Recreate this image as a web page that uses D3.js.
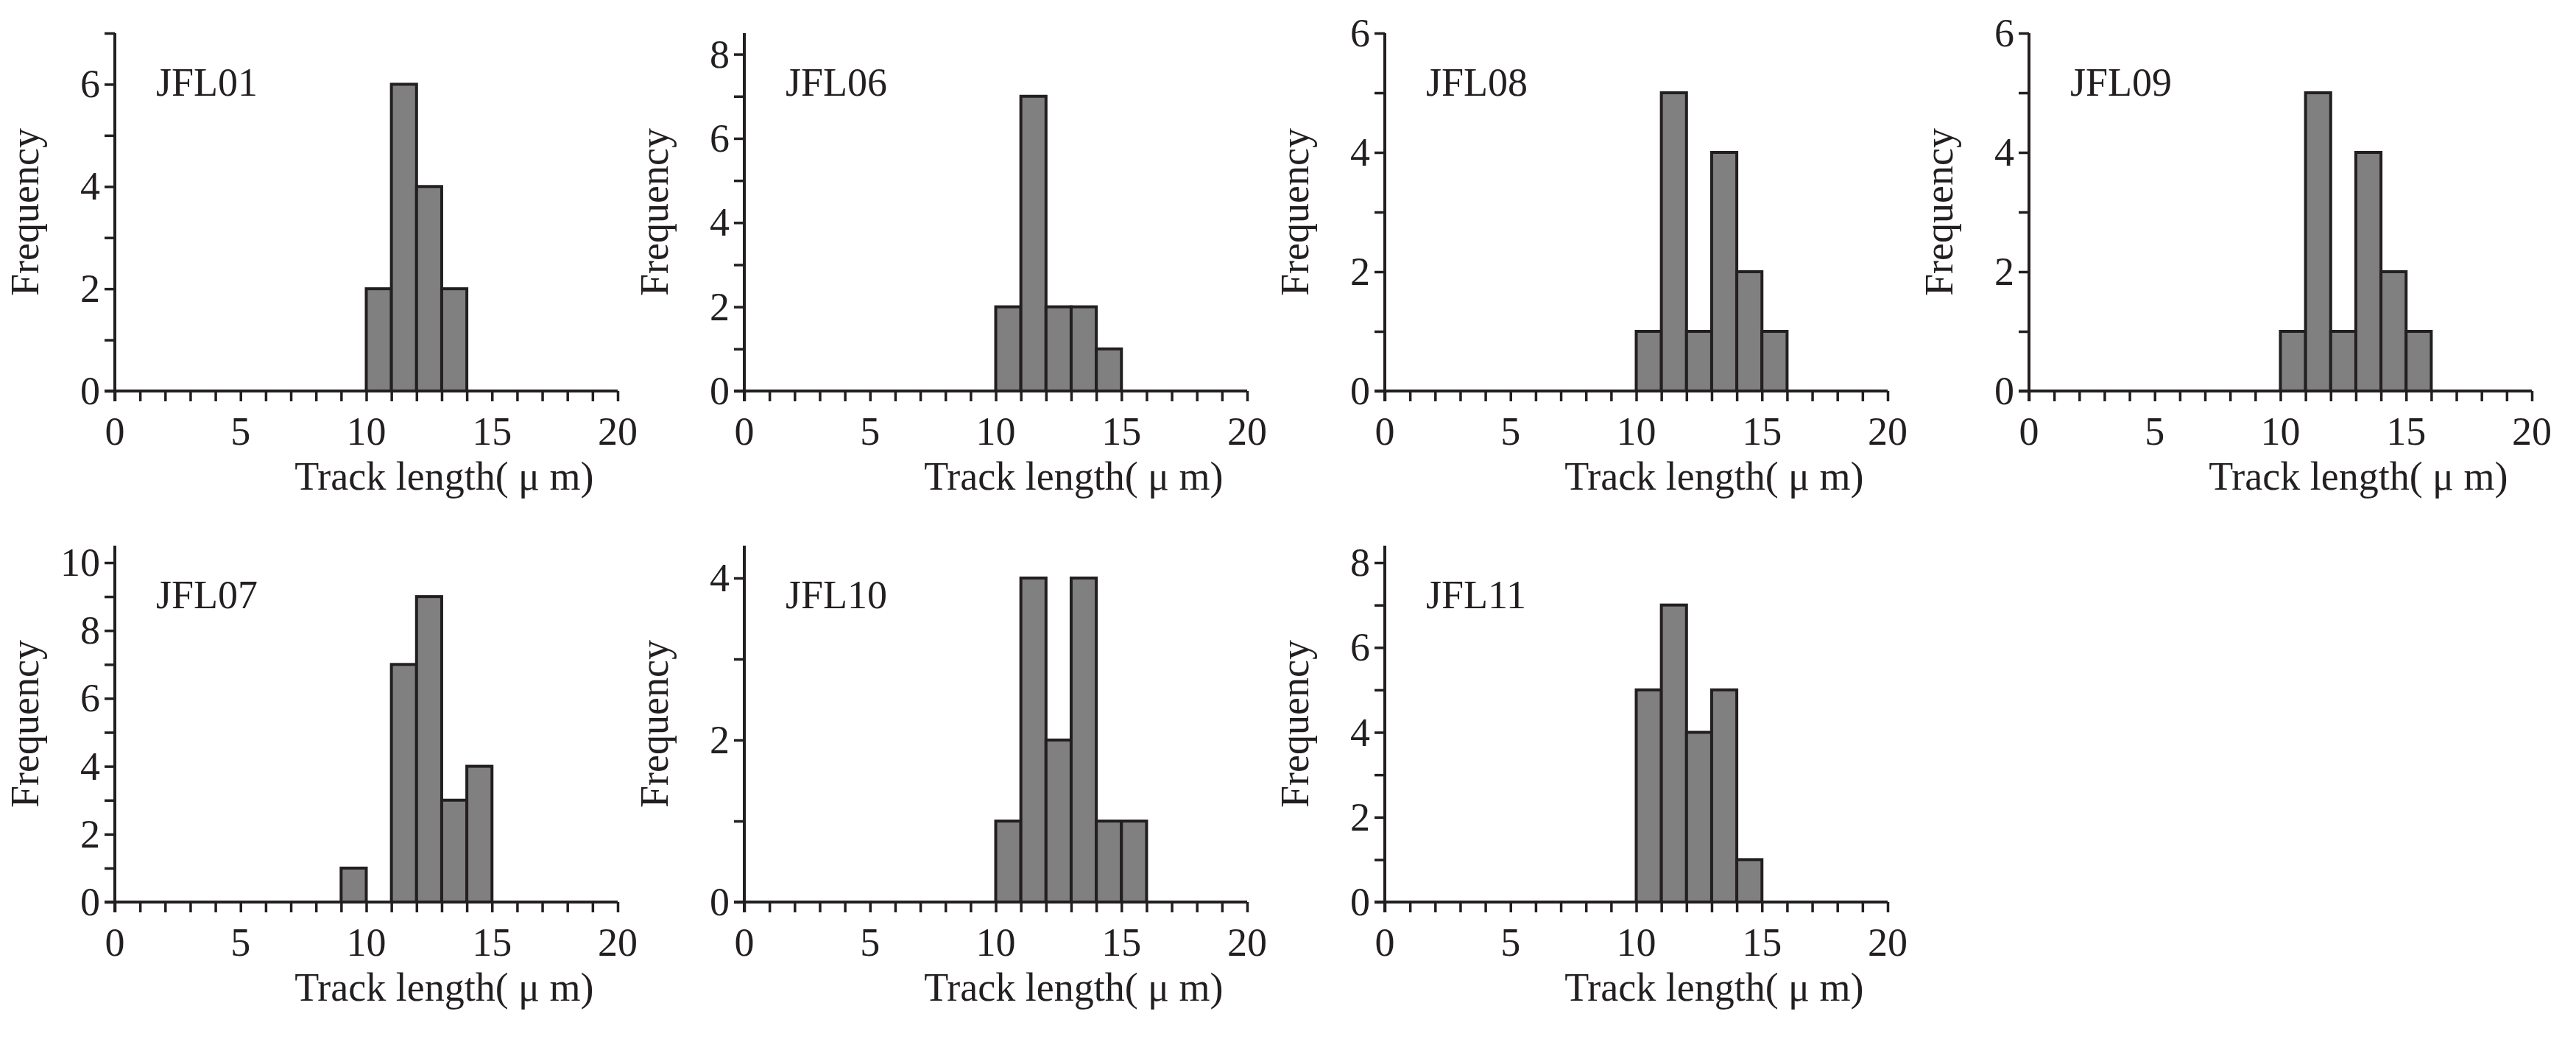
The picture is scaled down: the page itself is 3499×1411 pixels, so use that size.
<!DOCTYPE html>
<html><head><meta charset="utf-8">
<script src="https://cdn.jsdelivr.net/npm/d3@7"></script>
<style>body{margin:0;background:#fff}text{font-family:"Liberation Serif","Times New Roman",serif;fill:#231f20}</style>
</head><body>
<svg id="c" width="3499" height="1411"></svg>
<script>
// samples, bin starts (µm) and counts
const samples = ['JFL01', 'JFL06', 'JFL08', 'JFL09', 'JFL07', 'JFL10', 'JFL11']
const binStarts = [
  [10, 11, 12, 13],
  [10, 11, 12, 13, 14],
  [10, 11, 12, 13, 14, 15],
  [10, 11, 12, 13, 14, 15],
  [9, 11, 12, 13, 14],
  [10, 11, 12, 13, 14, 15],
  [10, 11, 12, 13, 14]
]
const counts = [
  [2, 6, 4, 2],
  [2, 7, 2, 2, 1],
  [1, 5, 1, 4, 2, 1],
  [1, 5, 1, 4, 2, 1],
  [1, 7, 9, 3, 4],
  [1, 4, 2, 4, 1, 1],
  [5, 7, 4, 5, 1]
]
const yMax = [7, 8.5, 6, 6, 10.5, 4.4, 8.4]
const yTicks = [[0, 2, 4, 6], [0, 2, 4, 6, 8], [0, 2, 4, 6], [0, 2, 4, 6], [0, 2, 4, 6, 8, 10], [0, 2, 4], [0, 2, 4, 6, 8]]
const xTicks = [0, 5, 10, 15, 20]

const svg = d3.select('#c')
const colX = [156, 1011, 1881, 2756]
const rowTop = [45, 741]
const rowZero = [531, 1225]
const W = 683
const ink = '#231f20'

samples.forEach((name, i) => {
  const x0 = colX[i % 4], r = i < 4 ? 0 : 1
  const g = svg.append('g')
  const x = d3.scaleLinear().domain([0, 20]).range([x0, x0 + W])
  const y = d3.scaleLinear().domain([0, yMax[i]]).range([rowZero[r], rowTop[r]])
  const bins = binStarts[i].map((b, k) => ({ b, c: counts[i][k] }))

  g.selectAll('rect').data(bins).enter().append('rect')
    .attr('x', d => x(d.b)).attr('width', d => x(d.b + 1) - x(d.b))
    .attr('y', d => y(d.c)).attr('height', d => y(0) - y(d.c))
    .attr('fill', '#808080').attr('stroke', ink).attr('stroke-width', 4)

  // axes
  const xa = g.append('g').attr('transform', `translate(0,${y(0)})`)
    .call(d3.axisBottom(x).tickValues(d3.range(0, 21)).tickSize(14).tickFormat(''))
  xa.select('.domain').remove()
  xa.append('line').attr('x1', x0 - 14).attr('x2', x0 + W).attr('stroke', ink).attr('stroke-width', 4)
  xa.selectAll('.tick line').attr('stroke', ink).attr('stroke-width', 3.5)
  g.selectAll('.xl').data(xTicks).enter().append('text')
    .attr('x', d => x(d)).attr('y', y(0) + 73).attr('text-anchor', 'middle')
    .attr('font-size', 54).text(d => d)

  const ya = g.append('g').attr('transform', `translate(${x0},0)`)
    .call(d3.axisLeft(y).tickValues(d3.range(0, Math.floor(yMax[i]) + 1)).tickSize(14).tickFormat(''))
  ya.select('.domain').remove()
  ya.append('line').attr('y1', rowTop[r]).attr('y2', y(0) + 14).attr('stroke', ink).attr('stroke-width', 4)
  ya.selectAll('.tick line').attr('stroke', ink).attr('stroke-width', 3.5)
  g.selectAll('.yl').data(yTicks[i]).enter().append('text')
    .attr('x', x0 - 20).attr('y', d => y(d) + 18).attr('text-anchor', 'end')
    .attr('font-size', 54).text(d => d)

  g.append('text').attr('x', x0 + 56).attr('y', rowTop[r] + 85)
    .attr('font-size', 54).text(name)
  g.append('text').attr('transform', `translate(${x0 - 104},${(rowTop[r] + rowZero[r]) / 2}) rotate(-90)`)
    .attr('text-anchor', 'middle').attr('font-size', 54).text('Frequency')
  g.append('text').attr('x', x(13.1)).attr('y', y(0) + 134).attr('text-anchor', 'middle')
    .attr('font-size', 54).text('Track length( μ m)')
})
</script>
</body></html>
